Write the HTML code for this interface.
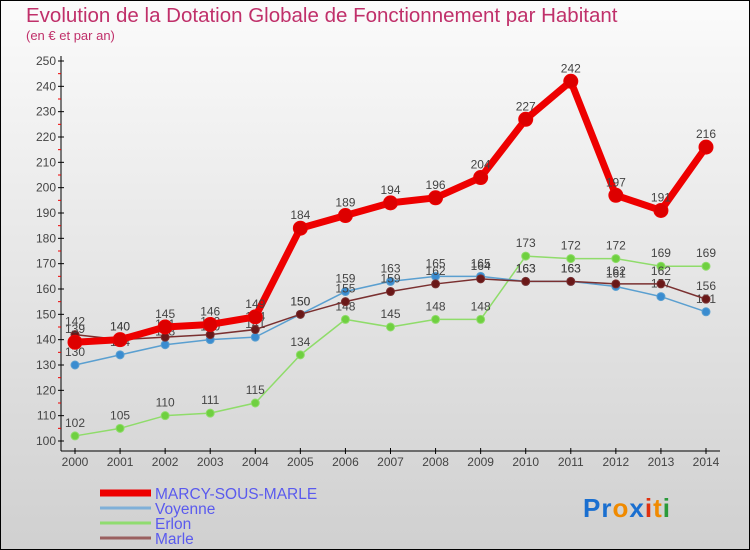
<!DOCTYPE html>
<html><head><meta charset="utf-8"><style>
body{margin:0;width:750px;height:550px;overflow:hidden;font-family:"Liberation Sans",sans-serif}
svg{display:block}
</style></head><body>
<svg id="chart" width="750" height="550" xmlns="http://www.w3.org/2000/svg">
<defs><linearGradient id="bg" x1="0" y1="0" x2="0" y2="1"><stop offset="0" stop-color="#fbfbfb"/><stop offset="1" stop-color="#d0d0d0"/></linearGradient></defs>
<rect x="0.5" y="0.5" width="749" height="549" fill="url(#bg)" stroke="#000"/>
<text x="26" y="22" font-size="20.5" fill="#c0306a">Evolution de la Dotation Globale de Fonctionnement par Habitant</text>
<text x="26" y="40" font-size="13" fill="#c0306a">(en € et par an)</text>
<g id="axes"></g><g id="series"></g><g id="legend"></g>
<text x="583" y="517" font-size="26" font-weight="bold" letter-spacing="1"><tspan fill="#1a6fd0">Pr</tspan><tspan fill="#f08a00">o</tspan><tspan fill="#1a6fd0">x</tspan><tspan fill="#e03010">i</tspan><tspan fill="#f08a00">t</tspan><tspan fill="#2a9a3a">i</tspan></text>
</svg>
<script>
const years=[2000,2001,2002,2003,2004,2005,2006,2007,2008,2009,2010,2011,2012,2013,2014];
const marcy=[139,140,145,146,149,184,189,194,196,204,227,242,197,191,216];
const voyenne=[130,134,138,140,141,150,159,163,165,165,163,163,161,157,151];
const erlon=[102,105,110,111,115,134,148,145,148,148,173,172,172,169,169];
const marle=[142,140,141,142,144,150,155,159,162,164,163,163,162,162,156];
const yTicks=[100,110,120,130,140,150,160,170,180,190,200,210,220,230,240,250];
const NS="http://www.w3.org/2000/svg";
const x=i=>75+i*(706-75)/(years.length-1);
const y=v=>441-(v-100)*(380/150);
function mk(t,a,p){const e=document.createElementNS(NS,t);for(const k in a)e.setAttribute(k,a[k]);(p||document.getElementById('series')).appendChild(e);return e;}
const ax=document.getElementById('axes');
let l=mk('line',{x1:61,y1:56,x2:61,y2:451,stroke:'#000'},ax);


l=mk('line',{x1:61,y1:451,x2:720,y2:451,stroke:'#000'},ax);


yTicks.forEach(v=>{mk('line',{x1:58,y1:y(v),x2:64,y2:y(v),stroke:'#000'},ax);
 if(v<250)mk('line',{x1:58,y1:y(v+5),x2:61,y2:y(v+5),stroke:'#e00'},ax);
 const t=mk('text',{x:56,y:y(v)+4,'font-size':12,fill:'#444','text-anchor':'end'},ax);t.textContent=v;
 
 });
years.forEach((yr,i)=>{mk('line',{x1:x(i),y1:448,x2:x(i),y2:454,stroke:'#000'},ax);
 const t=mk('text',{x:x(i),y:466,'font-size':12,fill:'#444','text-anchor':'middle'},ax);t.textContent=yr;
 
 });
function series(d,name,col,dot,w,r){
 const g=mk('g',{});
 
 
 mk('polyline',{points:d.map((v,i)=>x(i)+','+y(v)).join(' '),fill:'none',stroke:col,'stroke-width':w,'stroke-linejoin':'round'},g);
 d.forEach((v,i)=>{const c=mk('circle',{cx:x(i),cy:y(v),r:r,fill:dot,stroke:col,'stroke-width':1},g);
 
 
 const t=mk('text',{x:x(i),y:y(v)-9,'font-size':12,fill:'#444','text-anchor':'middle'},g);t.textContent=v;});
}
series(erlon,'erlon','#8fdc6a','#6fd040',1.5,4);
series(voyenne,'voyenne','#5a9fd0','#3a8cd0',1.5,4);
series(marle,'marle','#7a3030','#6a1818',1.5,4);
series(marcy,'marcy','#ee0000','#dd0000',7,7);
const lg=document.getElementById('legend');
[['MARCY-SOUS-MARLE','#ee0000',7],['Voyenne','#7fb0d8',3],['Erlon','#90dc70',3],['Marle','#9a6060',3]].forEach((e,i)=>{
 const yy=493+i*15;
 const g=mk('g',{},lg);
 
 
 mk('line',{x1:100,y1:yy,x2:151,y2:yy,stroke:e[1],'stroke-width':e[2]},g);
 const t=mk('text',{x:155,y:yy+6,'font-size':15.5,fill:'#5a5aee'},g);t.textContent=e[0];
});
</script>
</body></html>
